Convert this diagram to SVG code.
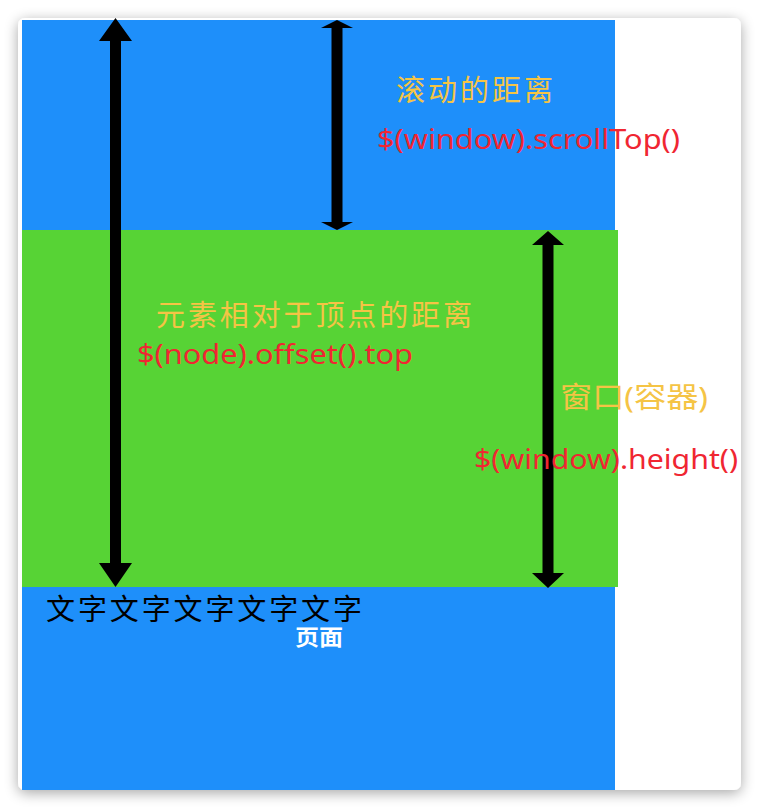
<svg xmlns="http://www.w3.org/2000/svg" width="759" height="808" viewBox="0 0 759 808">
<defs>
<filter id="sh" x="-10%" y="-10%" width="120%" height="120%">
<feGaussianBlur in="SourceAlpha" stdDeviation="7"/>
<feOffset dy="3"/>
<feComponentTransfer><feFuncA type="linear" slope="0.35"/></feComponentTransfer>
<feMerge><feMergeNode/><feMergeNode in="SourceGraphic"/></feMerge>
</filter>
<style>
text{font-family:"Noto Sans","Noto Sans CJK SC",sans-serif;}
.y{fill:#F5C445;font-size:29px;}
.r{fill:#F02632;font-size:27px;}
.k{fill:#000;font-size:29px;}
.w{fill:#fff;font-size:22px;font-weight:bold;}
.ar{fill:#000;}
</style>
</defs>
<rect width="759" height="808" fill="#fff"/>
<g id="frame">
<rect x="18" y="18" width="723" height="772" rx="7" fill="#fff" filter="url(#sh)"/>
</g>
<g id="page">
<rect x="22" y="20" width="593" height="770" fill="#1E8FFA"/>
</g>
<g id="window">
<rect x="22" y="230" width="596" height="357" fill="#57D335"/>
</g>
<g id="connectors">
<path class="ar" d="M115.5,18 L132,41 L121,41 L121,563 L132,563 L115.5,587 L99,563 L110,563 L110,41 L99,41 Z"/>
<path class="ar" d="M337,20 L353,28 L342.5,28 L342.5,222 L353,222 L337,230 L321,222 L331.5,222 L331.5,28 L321,28 Z"/>
<path class="ar" d="M548,231 L564,245 L553.5,245 L553.5,573 L564,573 L548,588 L532,573 L542.5,573 L542.5,245 L532,245 Z"/>
</g>
<g id="label-scroll">
<text class="y" x="396" y="101" textLength="157" lengthAdjust="spacing">滚动的距离</text>
<text class="r" x="377" y="149" textLength="303" lengthAdjust="spacingAndGlyphs">$(window).scrollTop()</text>
</g>
<g id="label-offset">
<text class="y" x="156" y="326" textLength="316" lengthAdjust="spacing">元素相对于顶点的距离</text>
<text class="r" x="137" y="364" textLength="276" lengthAdjust="spacingAndGlyphs">$(node).offset().top</text>
</g>
<g id="label-window">
<text class="y" x="560" y="408" textLength="148" lengthAdjust="spacingAndGlyphs">窗口(容器)</text>
<text class="r" x="474" y="469" textLength="264" lengthAdjust="spacingAndGlyphs">$(window).height()</text>
</g>
<g id="label-text">
<text class="k" x="46" y="620" textLength="316" lengthAdjust="spacing">文字文字文字文字文字</text>
</g>
<g id="label-page">
<text class="w" x="295" y="645" textLength="48" lengthAdjust="spacingAndGlyphs">页面</text>
</g>
</svg>
